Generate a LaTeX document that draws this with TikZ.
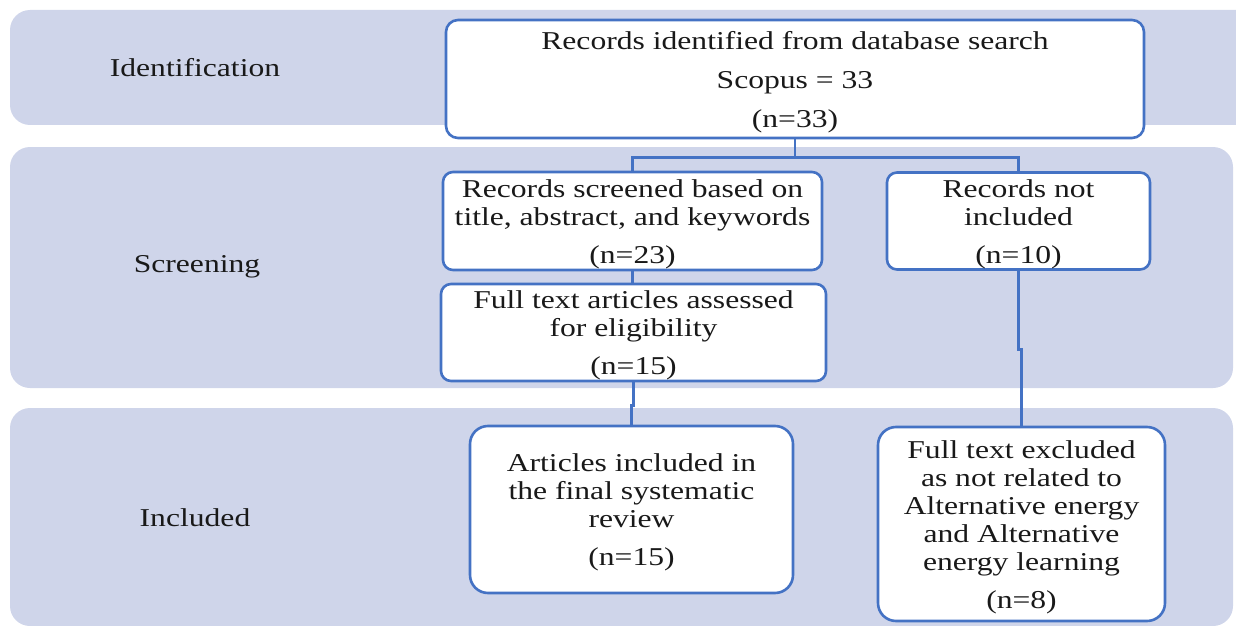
\documentclass[tikz,border=0pt]{standalone}
\usepackage{fontspec}
\setmainfont[FakeStretch=1.23]{Liberation Serif}
\definecolor{bandfill}{HTML}{CFD5EA}
\definecolor{edgeblue}{HTML}{4472C4}
\newcommand\toppad{\rule{0pt}{11.8pt}}
\begin{document}
\begin{tikzpicture}[x=0.5pt,y=-0.5pt,
  bandbox/.style={fill=bandfill, rounded corners=10pt},
  stage/.style={font=\fontsize{12.85pt}{14pt}\selectfont, text=black!90, inner sep=0pt},
  flowbox/.style={draw=edgeblue, fill=white, line width=1.3pt, align=center,
    font=\fontsize{12.85pt}{14pt}\selectfont, text=black!90, inner sep=0pt},
  conn/.style={draw=edgeblue, line width=1.4pt}]
\useasboundingbox (0,0) rectangle (1236,626);
% bands
\fill[bandbox] (10,10) rectangle (1270,125);
\fill[bandbox] (10,147) rectangle (1233,388);
\fill[bandbox] (10,408) rectangle (1233,626);
% stage labels
\node[stage] (lid) at (195,68) {Identification};
\node[stage] (lsc) at (197,267) {Screening};
\node[stage] (lin) at (195,518) {Included};
% boxes
\node[flowbox, minimum width=349pt, minimum height=59pt, rounded corners=6pt] (b1) at (795,79)
  {\toppad Records identified from database search\\[5.5pt] Scopus = 33\\[5.5pt] (n=33)};
\node[flowbox, minimum width=189.5pt, minimum height=49pt, rounded corners=5pt] (b2) at (632.5,221)
  {\toppad Records screened based on\\ title, abstract, and keywords\\[5pt] (n=23)};
\node[flowbox, minimum width=131.5pt, minimum height=48.5pt, rounded corners=5pt] (b3) at (1018.5,221)
  {\toppad Records not\\ included\\[5pt] (n=10)};
\node[flowbox, minimum width=192.5pt, minimum height=48.5pt, rounded corners=5pt] (b4) at (633.5,332.5)
  {\toppad Full text articles assessed\\ for eligibility\\[5pt] (n=15)};
\node[flowbox, minimum width=161.5pt, minimum height=83.5pt, rounded corners=9pt] (b5) at (631.5,509.5)
  {\toppad Articles included in\\ the final systematic\\ review\\[5pt] (n=15)};
\node[flowbox, minimum width=143.5pt, minimum height=97pt, rounded corners=9pt] (b6) at (1021.5,524)
  {\toppad Full text excluded\\ as not related to\\ Alternative energy\\ and Alternative\\ energy learning\\[5pt] (n=8)};
% connectors
\draw[conn] (b1.south) -- ++(0,18) coordinate (j1);
\draw[conn] (b2.north) |- (j1) -| (b3.north);
\draw[conn] (b2.south) -- (b2.south |- b4.north);
\draw[conn] (b4.south) -- ++(0,23) -| (b5.north);
\draw[conn] (b3.south) -- ++(0,79) -| (b6.north);
\end{tikzpicture}
\end{document}
